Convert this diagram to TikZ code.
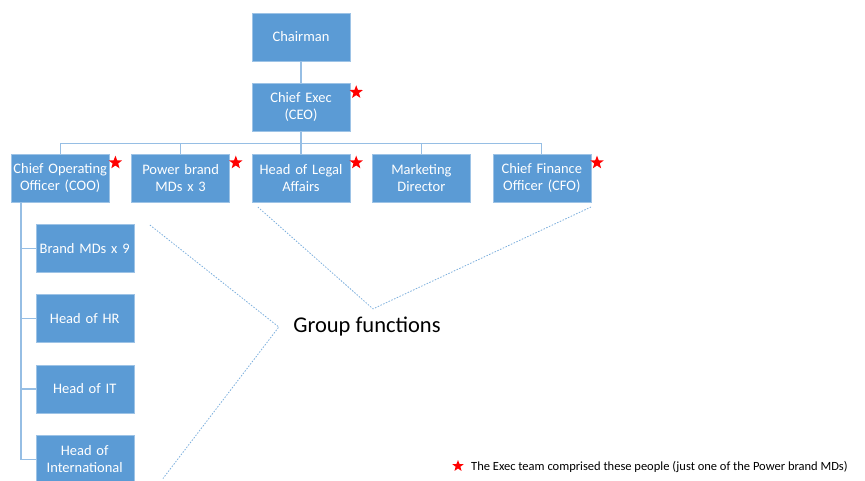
\documentclass[tikz,border=0pt]{standalone}
\usepackage{fontspec}
\setmainfont{Carlito}
\usetikzlibrary{shapes.geometric, arrows, arrows.meta, positioning}
\definecolor{boxblue}{RGB}{91,155,213}
\definecolor{lineblue}{RGB}{150,190,228}
\tikzstyle{role} = [
  rectangle,
  minimum width=98pt,
  minimum height=48pt,
  text width=98pt,
  align=center,
  inner sep=0,
  draw=boxblue!60!white,
  fill=boxblue,
  text=white,
  font=\fontsize{14.5}{17}\selectfont
]
\tikzstyle{exec} = [
  star,
  star points=5,
  star point ratio=2.4,
  minimum size=14pt,
  inner sep=0,
  fill=red
]
\tikzstyle{link} = [
  draw=lineblue,
  line width=1.2pt
]
\tikzstyle{groupline} = [
  draw=boxblue!80,
  line width=0.8pt,
  dash pattern=on 1.5pt off 1.5pt
]

\begin{document}
\begin{tikzpicture}[node distance=22pt]

    \useasboundingbox (0,0) rectangle (865pt,-480pt);

    \node (chair) [role] at (301pt,-37pt) {Chairman};
    \node (ceo) [role, below=of chair] {Chief Exec\\(CEO)};
    \node (legal) [role, below=of ceo] {Head of Legal\\Affairs};
    \node (power) [role, left=of legal] {Power brand\\MDs x 3};
    \node (coo) [role, left=of power] {Chief Operating\\Officer (COO)};
    \node (mkt) [role, right=of legal] {Marketing\\Director};
    \node (cfo) [role, right=of mkt] {Chief Finance\\Officer (CFO)};
    \node (brand) [role, below=of coo, xshift=24.5pt] {Brand MDs x 9};
    \node (hr) [role, below=of brand] {Head of HR};
    \node (it) [role, below=of hr] {Head of IT};
    \node (intl) [role, below=of it] {Head of\\International};

    \node (gf) [font=\fontsize{22.5}{27}\selectfont] at (367pt,-327pt) {Group functions};

    % exec team stars
    \foreach \n in {ceo, coo, power, legal, cfo}
      \node (star-\n) [exec] at ([xshift=6pt,yshift=-9pt]\n.north east) {};

    % reporting lines
    \coordinate (bus) at ([yshift=10pt]legal.north);
    \coordinate (spine) at ([xshift=10pt]coo.south west);
    \draw [link] (chair) -- (ceo);
    \draw [link] (ceo) -- (legal);
    \draw [link] (bus) -| (coo);
    \draw [link] (bus) -| (power);
    \draw [link] (bus) -| (mkt);
    \draw [link] (bus) -| (cfo);
    \draw [link] (spine) |- (brand);
    \draw [link] (spine) |- (hr);
    \draw [link] (spine) |- (it);
    \draw [link] (spine) |- (intl);

    % group functions brackets
    \coordinate (tipl) at ([xshift=-11pt]gf.west);
    \coordinate (tipt) at ([xshift=6pt,yshift=5pt]gf.north);
    \draw [groupline] ([xshift=16pt,yshift=-1pt]brand.north east) -- (tipl) -- ([xshift=29pt,yshift=5pt]intl.south east);
    \draw [groupline] ([xshift=6pt,yshift=-5pt]legal.south west) -- (tipt) -- ([yshift=-5pt]cfo.south east);

    % key
    \node (keystar) [exec, minimum size=12pt] at (458pt,-466pt) {};
    \node (key) [anchor=west, inner sep=0, font=\fontsize{12.5}{14}\selectfont] at (471pt,-467pt) {The Exec team comprised these people (just one of the Power brand MDs)};

\end{tikzpicture}
\end{document}
